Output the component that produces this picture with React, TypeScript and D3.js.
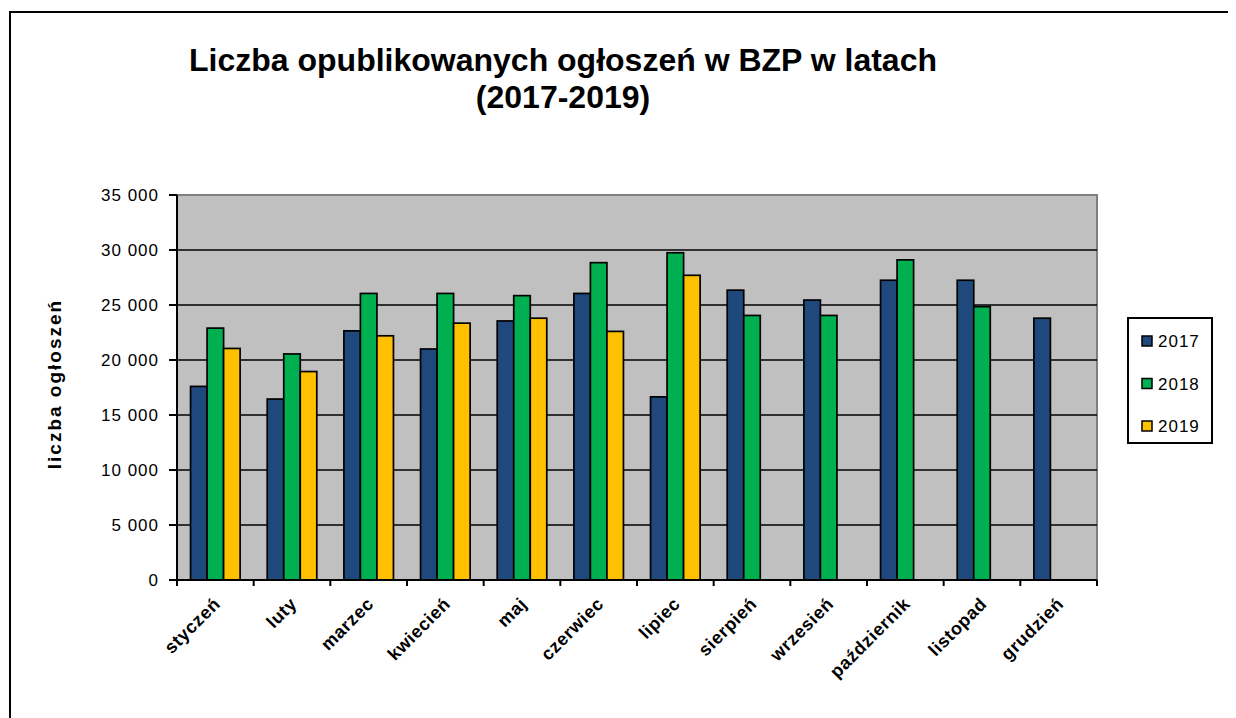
import React from "react";
import * as d3 from "d3";

const months = ["styczeń", "luty", "marzec", "kwiecień", "maj", "czerwiec", "lipiec", "sierpień", "wrzesień", "październik", "listopad", "grudzień"];
const years = ["2017", "2018", "2019"];
const values2017: (number | null)[] = [17600, 16450, 22650, 21000, 23550, 26050, 16650, 26350, 25450, 27250, 27250, 23800];
const values2018: (number | null)[] = [22900, 20550, 26050, 26050, 25850, 28850, 29750, 24050, 24050, 29100, 24850, null];
const values2019: (number | null)[] = [21050, 18950, 22200, 23350, 23800, 22600, 27700, null, null, null, null, null];
const yTicks = [0, 5000, 10000, 15000, 20000, 25000, 30000, 35000];
const colors = ["#1F497D", "#00B050", "#FFC000"];
const title1 = "Liczba opublikowanych ogłoszeń w BZP w latach";
const title2 = "(2017-2019)";
const yTitle = "liczba ogłoszeń";

const series = [values2017, values2018, values2019];

export default function App() {
  const left = 177, right = 1097, top = 195, bottom = 580;
  const x0 = d3.scaleBand<string>().domain(months).range([left, right]).padding(0);
  const x1 = d3.scaleBand<string>().domain(years).range([0, x0.bandwidth()]).paddingInner(0).paddingOuter(0.82);
  const y = d3.scaleLinear().domain([0, 35000]).range([bottom, top]);
  const fmt = d3.formatLocale({ thousands: " ", grouping: [3], decimal: ",", currency: ["", ""] }).format(",");
  const font = "'Liberation Sans', Arial, sans-serif";

  return (
    <svg width={1236} height={718} style={{ position: "absolute", left: 0, top: 0, background: "#fff" }} fontFamily={font}>
      {/* outer frame */}
      <path d={`M10,718 L10,12 L1228,12`} fill="none" stroke="#000" strokeWidth={2} />
      {/* title */}
      <text x={563} y={71} textAnchor="middle" fontSize={32} fontWeight="bold">{title1}</text>
      <text x={563} y={108} textAnchor="middle" fontSize={32} fontWeight="bold">{title2}</text>
      {/* plot area */}
      <rect x={left} y={top} width={right - left} height={bottom - top} fill="#C0C0C0" />
      <path d={`M${left},${top} L${right},${top} L${right},${bottom}`} fill="none" stroke="#808080" strokeWidth={2} />
      {yTicks.filter(t => t > 0 && t < 35000).map(t => (
        <line key={t} x1={left} x2={right} y1={y(t)} y2={y(t)} stroke="#000" strokeWidth={1.6} />
      ))}
      {/* bars */}
      {months.map((m, i) => (
        <g key={m} transform={`translate(${x0(m)},0)`}>
          {series.map((s, k) => {
            const v = s[i];
            if (v == null) return null;
            return (
              <rect key={k} x={x1(years[k])} y={y(v)} width={x1.bandwidth()} height={y(0) - y(v)}
                fill={colors[k]} stroke="#000" strokeWidth={1.7} />
            );
          })}
        </g>
      ))}
      {/* axes */}
      <line x1={left} x2={left} y1={top} y2={bottom} stroke="#000" strokeWidth={2} />
      <line x1={left} x2={right} y1={bottom} y2={bottom} stroke="#000" strokeWidth={2} />
      {yTicks.map(t => (
        <g key={t}>
          <line x1={left - 8} x2={left} y1={y(t)} y2={y(t)} stroke="#000" strokeWidth={2} />
          <text x={159} y={y(t)} dy="0.36em" textAnchor="end" fontSize={17} letterSpacing={1}>{fmt(t)}</text>
        </g>
      ))}
      {[...months.map(m => x0(m) as number), right].map((xv, i) => (
        <line key={i} x1={xv} x2={xv} y1={bottom} y2={bottom + 6} stroke="#000" strokeWidth={2} />
      ))}
      {months.map(m => {
        const cx = (x0(m) as number) + x0.bandwidth() / 2;
        return (
          <text key={m} transform={`translate(${cx + 6},${605}) rotate(-45)`} textAnchor="end" fontSize={18}
            fontWeight="bold" letterSpacing={0.6}>{m}</text>
        );
      })}
      {/* y title */}
      <text transform={`translate(61,384) rotate(-90)`} textAnchor="middle" fontSize={19} fontWeight="bold" letterSpacing={2}>{yTitle}</text>
      {/* legend */}
      <rect x={1128} y={318} width={84} height={125} fill="#fff" stroke="#000" strokeWidth={2} />
      {years.map((yr, k) => (
        <g key={yr} transform={`translate(0,${341 + k * 42.5})`}>
          <rect x={1142} y={-5} width={10} height={10} fill={colors[k]} stroke="#000" strokeWidth={1.5} />
          <text x={1158} y={0} dy="0.36em" fontSize={17} letterSpacing={1}>{yr}</text>
        </g>
      ))}
    </svg>
  );
}
